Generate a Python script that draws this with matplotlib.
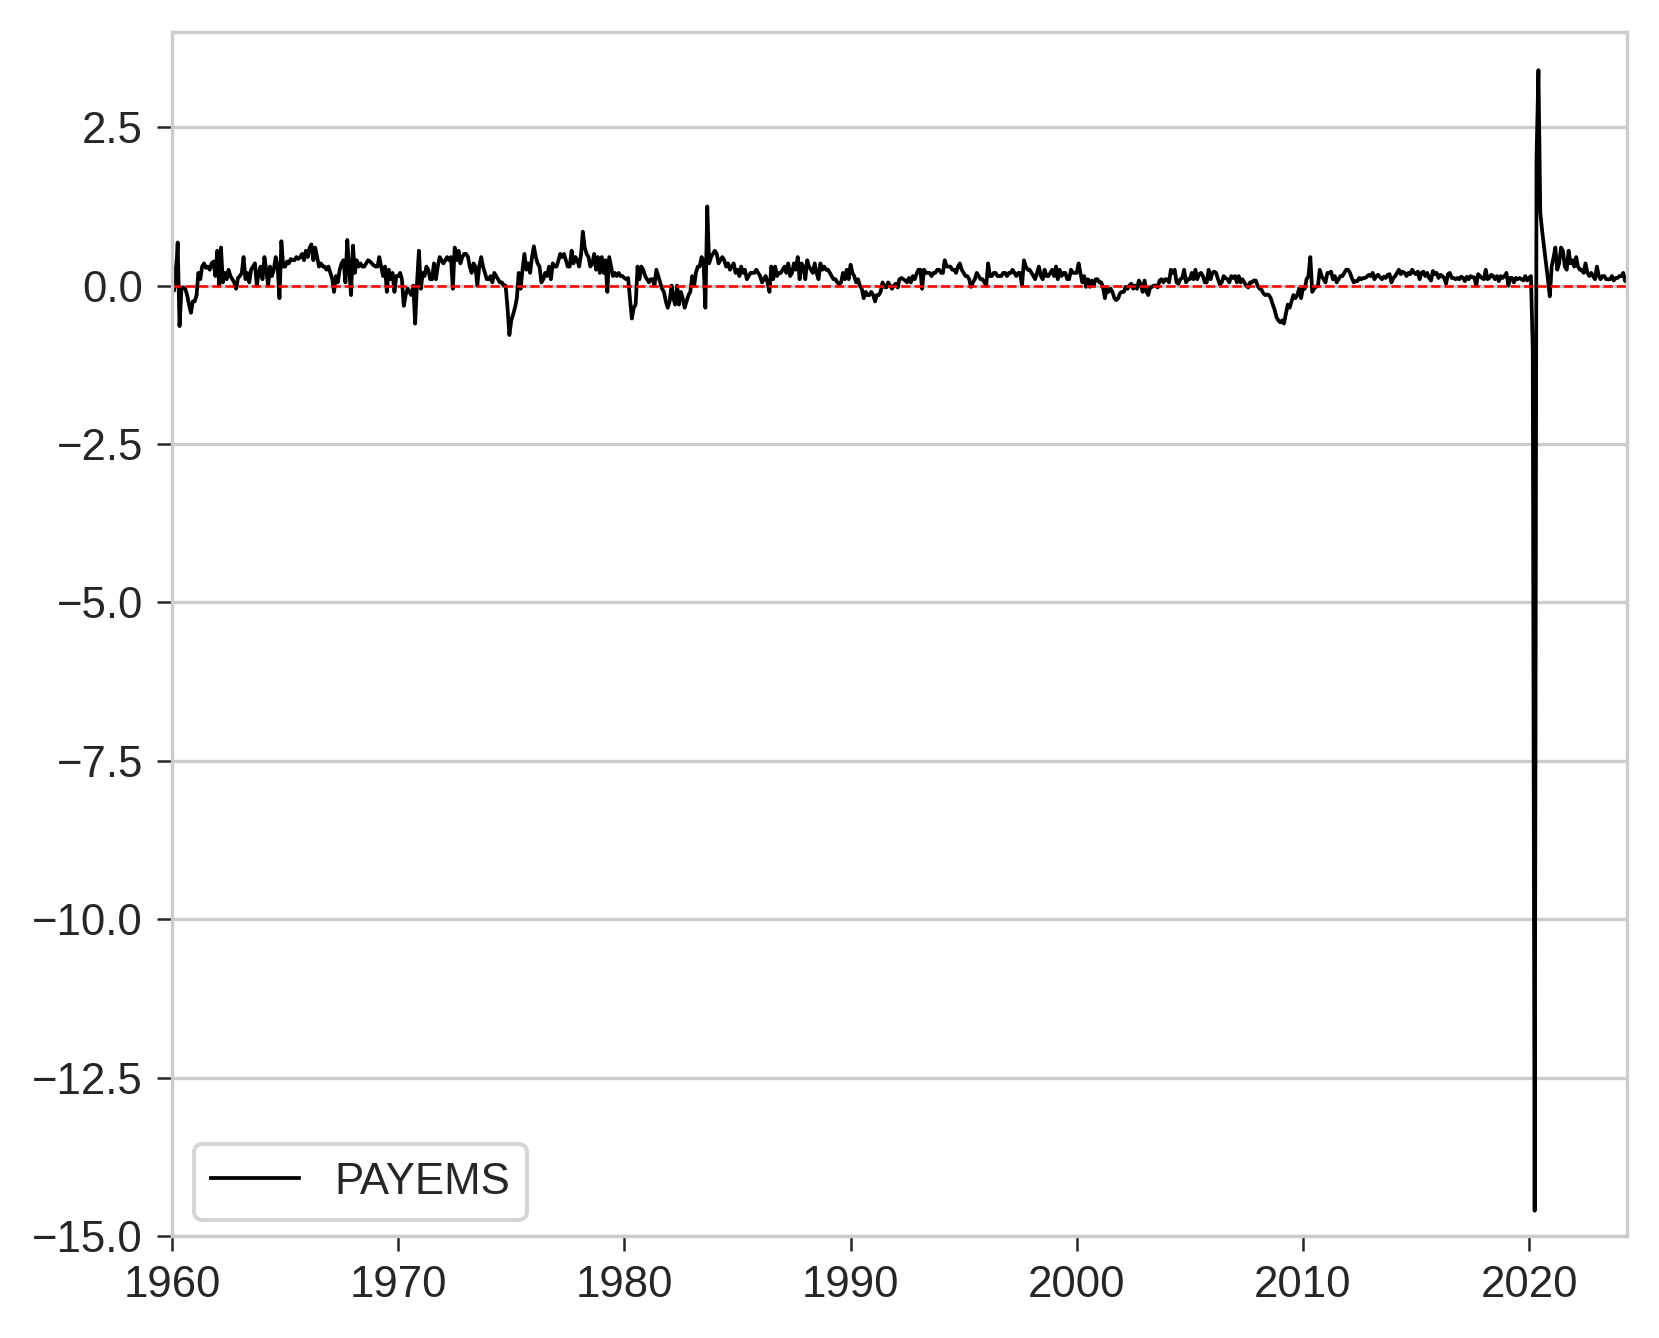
import numpy as np
import pandas as pd
import matplotlib
matplotlib.use("Agg")
import matplotlib.pyplot as plt
import matplotlib.dates as mdates

# ── monthly % change in PAYEMS ───────────────────────────────────────────────
pct_1960s = [
    0.44, -0.08, 0.1, 0.68, -0.64, -0.05, -0.03, -0.05, -0.15, -0.3, -0.43, -0.25,
    -0.25, -0.15, 0.2, 0.1, 0.3, 0.35, 0.28, 0.3, 0.25, 0.35, 0.38, 0.15,
    0.55, 0.0, 0.6, 0.05, 0.2, 0.1, 0.25, 0.15, 0.1, 0.05, -0.05, 0.12,
    0.15, 0.2, 0.45, 0.1, 0.2, 0.05, 0.25, 0.3, 0.35, 0.0, 0.2, 0.3,
    0.1, 0.45, 0.25, 0.0, 0.3, 0.15, 0.25, 0.45, 0.3, -0.2, 0.7, 0.3,
    0.3, 0.38, 0.35, 0.42, 0.4, 0.4, 0.45, 0.42, 0.45, 0.5, 0.4, 0.55,
    0.45, 0.6, 0.65, 0.4, 0.6, 0.45, 0.3, 0.35, 0.3, 0.3, 0.25, 0.3,
    0.2, 0.1, -0.1, 0.15, 0.05, 0.25, 0.35, 0.4, 0.05, 0.72, 0.25, -0.15,
    0.63, 0.2, 0.4, 0.3, 0.35, 0.3, 0.3, 0.35, 0.4, 0.38, 0.35, 0.32,
    0.3, 0.3, 0.45, 0.3, 0.15, 0.3, -0.1, 0.25, 0.1, 0.2, -0.1, 0.15,
]
pct_1970s = [
    0.15, 0.2, 0.1, -0.32, -0.15, -0.05, -0.1, -0.15, 0.0, -0.6, 0.05, 0.55,
    -0.05, 0.2, 0.15, 0.3, 0.25, 0.1, 0.1, 0.35, 0.1, 0.3, 0.45, 0.4,
    0.35, 0.4, 0.45, 0.4, 0.45, -0.05, 0.6, 0.4, 0.55, 0.35, 0.45, 0.5,
    0.5, 0.45, 0.3, 0.2, 0.35, 0.3, 0.0, 0.3, 0.45, 0.3, 0.2, 0.1,
    0.1, 0.15, 0.05, 0.2, 0.15, 0.1, 0.05, 0.05, 0.0, 0.0, -0.35, -0.78,
    -0.55, -0.45, -0.35, -0.2, 0.2, -0.05, 0.25, 0.5, 0.25, 0.35, 0.2, 0.45,
    0.62, 0.45, 0.35, 0.3, 0.05, 0.1, 0.2, 0.15, 0.3, 0.1, 0.35, 0.3,
    0.3, 0.4, 0.5, 0.45, 0.5, 0.4, 0.3, 0.3, 0.55, 0.35, 0.45, 0.4,
    0.3, 0.5, 0.85, 0.6, 0.5, 0.45, 0.3, 0.35, 0.5, 0.25, 0.45, 0.2,
    0.45, 0.2, 0.4, -0.1, 0.45, 0.3, 0.15, 0.2, 0.15, 0.2, 0.15, 0.15,
]
pct_1980s = [
    0.12, 0.1, 0.12, -0.2, -0.52, -0.35, -0.3, 0.3, 0.1, 0.3, 0.25, 0.15,
    0.1, 0.05, 0.1, 0.1, 0.0, 0.25, 0.15, 0.05, -0.05, -0.1, -0.25, -0.35,
    -0.25, 0.0, -0.2, -0.3, 0.0, -0.3, -0.1, -0.2, -0.35, -0.25, -0.15, -0.1,
    0.15, 0.0, 0.2, 0.3, 0.3, 0.45, 0.4, -0.35, 1.25, 0.35, 0.45, 0.5,
    0.55, 0.5, 0.35, 0.4, 0.45, 0.4, 0.3, 0.35, 0.25, 0.3, 0.35, 0.2,
    0.25, 0.15, 0.3, 0.2, 0.25, 0.1, 0.15, 0.2, 0.2, 0.2, 0.25, 0.2,
    0.15, 0.05, 0.1, 0.15, 0.05, -0.1, 0.3, 0.1, 0.3, 0.15, 0.2, 0.2,
    0.25, 0.3, 0.2, 0.35, 0.15, 0.2, 0.35, 0.25, 0.45, 0.1, 0.35, 0.3,
    0.1, 0.4, 0.3, 0.25, 0.2, 0.35, 0.2, 0.1, 0.35, 0.25, 0.3, 0.25,
    0.25, 0.2, 0.15, 0.1, 0.1, 0.05, 0.02, 0.05, 0.2, 0.1, 0.25, 0.1,
]
pct_1990s = [
    0.33, 0.2, 0.15, 0.05, 0.1, 0.0, -0.05, -0.2, -0.1, -0.15, -0.15, -0.1,
    -0.15, -0.25, -0.15, -0.15, -0.1, 0.05, -0.02, -0.03, 0.05, 0.0, -0.05, 0.0,
    0.03, -0.03, 0.1, 0.12, 0.1, 0.08, 0.05, 0.12, 0.05, 0.15, 0.1, 0.18,
    0.25, 0.25, -0.05, 0.25, 0.2, 0.2, 0.2, 0.15, 0.2, 0.2, 0.25, 0.25,
    0.2, 0.2, 0.4, 0.3, 0.3, 0.3, 0.25, 0.25, 0.2, 0.3, 0.35, 0.25,
    0.2, 0.15, 0.15, 0.1, -0.02, 0.05, 0.1, 0.2, 0.15, 0.1, 0.1, 0.05,
    0.0, 0.35, 0.15, 0.15, 0.2, 0.2, 0.15, 0.15, 0.15, 0.2, 0.2, 0.15,
    0.2, 0.2, 0.25, 0.2, 0.15, 0.2, 0.2, 0.0, 0.4, 0.3, 0.25, 0.25,
    0.2, 0.15, 0.1, 0.2, 0.3, 0.15, 0.1, 0.25, 0.15, 0.15, 0.2, 0.25,
    0.15, 0.3, 0.1, 0.25, 0.15, 0.2, 0.2, 0.1, 0.1, 0.25, 0.2, 0.2,
]
pct_2000s = [
    0.2, 0.35, 0.2, 0.05, 0.15, -0.02, 0.1, -0.02, 0.08, 0.0, 0.1, 0.1,
    0.05, 0.05, -0.03, -0.2, -0.05, -0.1, -0.05, -0.1, -0.2, -0.23, -0.2, -0.12,
    -0.1, -0.1, -0.02, -0.05, 0.0, 0.03, -0.05, 0.0, -0.05, 0.08, 0.02, -0.1,
    0.08, -0.1, -0.15, -0.03, -0.02, 0.0, 0.0, -0.03, 0.08, 0.1, 0.05, 0.1,
    0.1, 0.05, 0.25, 0.2, 0.25, 0.05, 0.03, 0.1, 0.12, 0.25, 0.05, 0.1,
    0.1, 0.2, 0.1, 0.25, 0.1, 0.18, 0.2, 0.15, 0.05, 0.05, 0.25, 0.1,
    0.2, 0.22, 0.2, 0.1, 0.02, 0.05, 0.15, 0.12, 0.1, 0.05, 0.15, 0.12,
    0.15, 0.05, 0.15, 0.05, 0.1, 0.05, 0.0, -0.03, 0.05, 0.05, 0.08, 0.08,
    0.0, -0.05, -0.06, -0.12, -0.15, -0.14, -0.15, -0.2, -0.3, -0.38, -0.5, -0.55,
    -0.58, -0.55, -0.6, -0.45, -0.3, -0.35, -0.25, -0.15, -0.2, -0.15, -0.05, -0.2,
]
pct_2010s = [
    -0.05, -0.05, 0.1, 0.15, 0.45, -0.1, -0.05, -0.02, 0.0, 0.25, 0.15, 0.1,
    0.05, 0.2, 0.2, 0.22, 0.1, 0.15, 0.05, 0.1, 0.15, 0.15, 0.2, 0.25,
    0.25, 0.2, 0.12, 0.05, 0.07, 0.07, 0.12, 0.1, 0.12, 0.12, 0.14, 0.17,
    0.15, 0.2, 0.1, 0.15, 0.17, 0.13, 0.1, 0.14, 0.12, 0.17, 0.18, 0.05,
    0.12, 0.15, 0.2, 0.25, 0.18, 0.22, 0.2, 0.15, 0.2, 0.18, 0.25, 0.2,
    0.18, 0.22, 0.1, 0.2, 0.22, 0.15, 0.2, 0.12, 0.08, 0.23, 0.18, 0.2,
    0.12, 0.17, 0.15, 0.12, 0.03, 0.18, 0.2, 0.12, 0.12, 0.1, 0.12, 0.1,
    0.14, 0.12, 0.07, 0.14, 0.1, 0.15, 0.13, 0.13, 0.0, 0.18, 0.15, 0.12,
    0.1, 0.25, 0.1, 0.12, 0.17, 0.15, 0.1, 0.15, 0.07, 0.15, 0.12, 0.15,
    0.2, 0.0, 0.12, 0.12, 0.05, 0.12, 0.1, 0.12, 0.1, 0.08, 0.15, 0.08,
]
pct_2020s = [
    0.12, 0.15, -1.0, -14.6, 2.0, 3.4, 1.15, 0.85, 0.6, 0.35, 0.1, -0.17,
    0.3, 0.45, 0.6, 0.25, 0.35, 0.6, 0.55, 0.3, 0.25, 0.55, 0.35, 0.4,
    0.3, 0.45, 0.3, 0.25, 0.25, 0.2, 0.35, 0.2, 0.15, 0.2, 0.15, 0.1,
    0.3, 0.15, 0.1, 0.15, 0.15, 0.1, 0.1, 0.1, 0.15, 0.08, 0.12, 0.12,
    0.15, 0.15, 0.2, 0.07, 0.13,
]

series_name = "PAYEMS"
start_month = "1960-01-01"

values = np.array(pct_1960s + pct_1970s + pct_1980s + pct_1990s
                  + pct_2000s + pct_2010s + pct_2020s)
dates = pd.date_range(start_month, periods=len(values), freq="MS")

# ── style ─────────────────────────────────────────────────────────────────────
plt.rcParams["font.family"] = ["Liberation Sans", "DejaVu Sans"]
plt.rcParams["font.size"] = 10.5
plt.rcParams["text.color"] = ".15"
plt.rcParams["xtick.color"] = ".15"
plt.rcParams["ytick.color"] = ".15"

fig, ax = plt.subplots(figsize=(1659 / 300, 1338 / 300), dpi=300)
fig.subplots_adjust(left=0.1037, right=0.9807, top=0.976, bottom=0.0762)

ax.plot(dates, values, color="black", linewidth=0.9, label=series_name)
ax.axhline(0, color="red", linestyle="--", linewidth=0.6)

ax.set_xlim(dates[0], dates[-1])
ax.set_ylim(-15, 4)
ax.set_yticks(np.arange(-15, 3.0, 2.5))
ax.xaxis.set_major_locator(mdates.YearLocator(10))
ax.xaxis.set_major_formatter(mdates.DateFormatter("%Y"))

ax.grid(axis="y", color="#cccccc", linewidth=0.8)
ax.grid(axis="x", visible=False)
ax.set_axisbelow(True)
for spine in ax.spines.values():
    spine.set_color("#cccccc")
    spine.set_linewidth(0.8)
ax.tick_params(axis="both", labelsize=10.5, length=3.5, width=0.6, pad=3.5)

leg = ax.legend(loc="lower left", fontsize=10.5, frameon=True, fancybox=True,
                borderaxespad=0.5, bbox_to_anchor=(0, -0.005, 1, 1))
leg.get_frame().set_edgecolor("#cccccc")

fig.savefig("out.png", dpi=300)
